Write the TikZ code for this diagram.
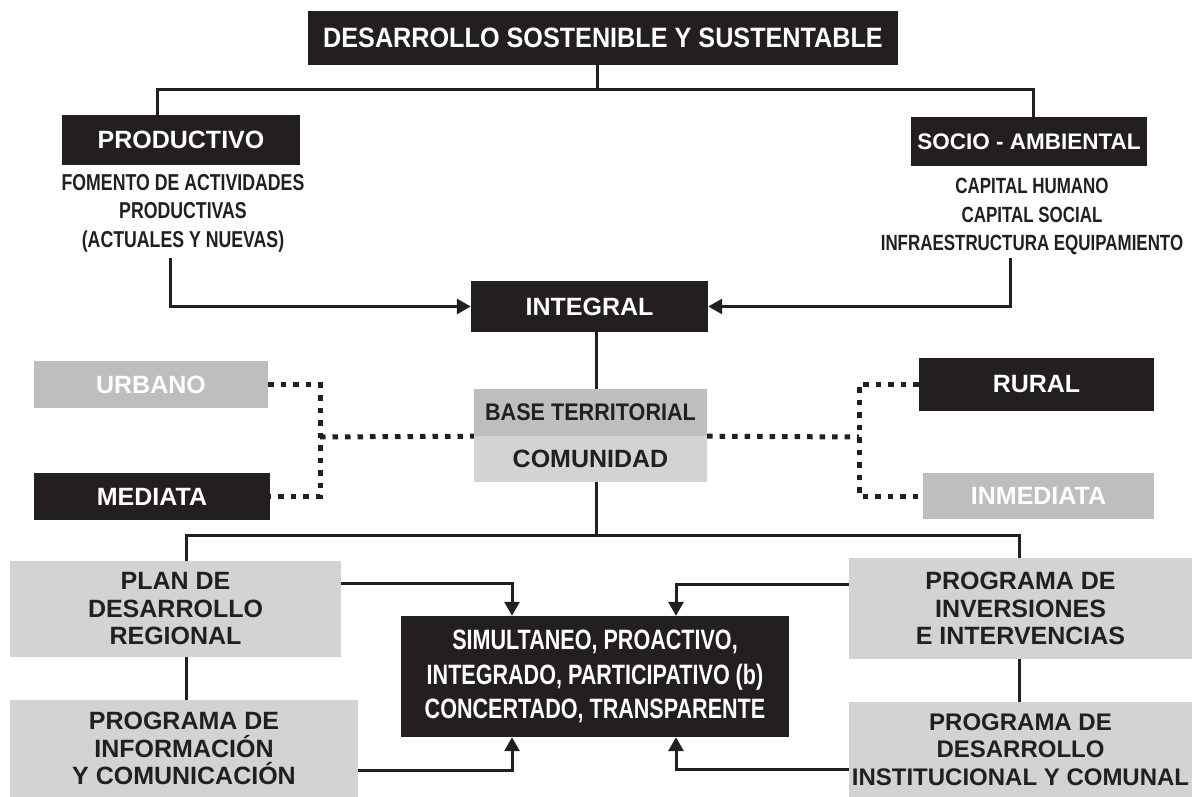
\documentclass[tikz,border=0pt]{standalone}
\usepackage{fontspec}
\setmainfont{Liberation Sans}
\newfontfamily\condfont{Liberation Sans}[FakeStretch=0.77]
\newfontfamily\semifont{Liberation Sans}[FakeStretch=0.9]
\usetikzlibrary{arrows.meta,positioning,calc}

\definecolor{ink}{HTML}{231F20}
\definecolor{paleg}{HTML}{D1D3D4}
\definecolor{midg}{HTML}{BCBEC0}

\newcommand{\boxfont}{\fontsize{25}{27.5}\selectfont\bfseries}
\newcommand{\smallbox}{\fontsize{24}{27.5}\selectfont\bfseries}
\newcommand{\titlefont}{\semifont\fontsize{28}{32}\selectfont\bfseries}
\newcommand{\notefont}{\condfont\fontsize{23}{28.5}\selectfont\bfseries}
\newcommand{\corefont}{\condfont\fontsize{28}{34.5}\selectfont\bfseries}

\begin{document}
\begin{tikzpicture}[x=1pt,y=-1pt,
    box/.style={rectangle,inner sep=0pt,align=center,font=\boxfont},
    blackbox/.style={box,fill=ink,text=white},
    greybox/.style={box,fill=midg,text=white},
    palebox/.style={box,fill=paleg,text=ink},
    note/.style={inner sep=0pt,align=center,text=ink,font=\notefont},
    conn/.style={draw=ink,line width=3pt},
    arr/.style={conn,-{Triangle[length=14pt,width=15pt]}},
    dotline/.style={draw=ink,line width=5pt,dash pattern=on 5.5pt off 7pt}]
    \useasboundingbox (0,0) rectangle (1192,797);

    \node[blackbox, minimum width=590pt, minimum height=54pt, font=\titlefont] (title) at (603,38) {DESARROLLO SOSTENIBLE Y SUSTENTABLE};
    \node[blackbox, minimum width=238pt, minimum height=50pt] (prod) at (181,140) {PRODUCTIVO};
    \node[blackbox, minimum width=236pt, minimum height=49pt, font=\fontsize{22.5}{27}\selectfont\bfseries] (socio) at (1029,141.5) {SOCIO - AMBIENTAL};
    \node[note] (fomento) at (183,213) {FOMENTO DE ACTIVIDADES\\PRODUCTIVAS\\(ACTUALES Y NUEVAS)};
    \node[note, font=\condfont\fontsize{22}{28.5}\selectfont\bfseries] (capital) at (1032,216.5) {CAPITAL HUMANO\\CAPITAL SOCIAL\\INFRAESTRUCTURA EQUIPAMIENTO};

    \node[blackbox, minimum width=237pt, minimum height=51pt] (integral) at (589.5,306.5) {INTEGRAL};
    \node[box, fill=midg, text=ink, minimum width=233pt, minimum height=47pt, font=\semifont\fontsize{24}{27}\selectfont\bfseries] (base) at (590.5,412.5) {BASE TERRITORIAL};
    \node[palebox, minimum width=233pt, minimum height=46pt] (comunidad) at (590.5,459) {COMUNIDAD};

    \node[greybox, minimum width=234pt, minimum height=47pt] (urbano) at (151,384.5) {URBANO};
    \node[blackbox, minimum width=236pt, minimum height=47pt] (mediata) at (152,496.5) {MEDIATA};
    \node[blackbox, minimum width=235pt, minimum height=53pt] (rural) at (1036.5,384.5) {RURAL};
    \node[greybox, minimum width=231pt, minimum height=46pt] (inmediata) at (1038.5,496) {INMEDIATA};

    \node[palebox, minimum width=331pt, minimum height=96pt] (plan) at (175.5,609) {PLAN DE\\DESARROLLO\\REGIONAL};
    \node[palebox, minimum width=348pt, minimum height=97pt] (info) at (184,748.5) {PROGRAMA DE\\INFORMACIÓN\\Y COMUNICACIÓN};
    \node[blackbox, minimum width=388pt, minimum height=121pt, font=\corefont] (core) at (595,676.5) {SIMULTANEO, PROACTIVO,\\INTEGRADO, PARTICIPATIVO (b)\\CONCERTADO, TRANSPARENTE};
    \node[palebox, minimum width=343pt, minimum height=101pt] (inv) at (1020.5,608.5) {PROGRAMA DE\\INVERSIONES\\E INTERVENCIAS};
    \node[palebox, minimum width=343pt, minimum height=95pt, font=\smallbox] (inst) at (1020.5,749.5) {PROGRAMA DE\\DESARROLLO\\INSTITUCIONAL Y COMUNAL};

    \coordinate (topj) at (597,90);
    \coordinate (busL) at (157,90);
    \coordinate (busR) at (1033,90);
    \draw[conn] (topj |- title.south) -- (topj);
    \draw[conn] (prod.north -| busL) -- (busL) -- (busR) -- (socio.north -| busR);

    \coordinate (fl) at (170,258);
    \coordinate (cr) at (1010,258);
    \draw[arr] (fl) |- (integral.west);
    \draw[arr] (cr) |- (integral.east);

    \coordinate (spine) at (596,535);
    \coordinate (lowL) at (186,535);
    \coordinate (lowR) at (1019,535);
    \draw[conn] (spine |- integral.south) -- (spine |- base.north);
    \draw[conn] (spine |- comunidad.south) -- (spine);
    \draw[conn] (plan.north -| lowL) -- (lowL) -- (lowR) -- (inv.north -| lowR);
    \draw[conn] (plan.south -| lowL) -- (info.north -| lowL);
    \draw[conn] (inv.south -| lowR) -- (inst.north -| lowR);

    \coordinate (dl) at (320,437);
    \coordinate (dr) at (859,437);
    \draw[dotline] (urbano.east) -| (dl) |- (mediata.east);
    \draw[dotline] (dl) -- (base.south west);
    \draw[dotline] (rural.west) -| (dr) |- (inmediata.west);
    \draw[dotline] (base.south east) -- (dr);

    \coordinate (inL) at (512,583);
    \coordinate (outL) at (512,770);
    \coordinate (inR) at (676,584);
    \coordinate (outR) at (676,769);
    \draw[arr] (plan.east |- inL) -- (inL) -- (core.north -| inL);
    \draw[arr] (info.east |- outL) -- (outL) -- (core.south -| outL);
    \draw[arr] (inv.west |- inR) -- (inR) -- (core.north -| inR);
    \draw[arr] (inst.west |- outR) -- (outR) -- (core.south -| outR);
\end{tikzpicture}
\end{document}
